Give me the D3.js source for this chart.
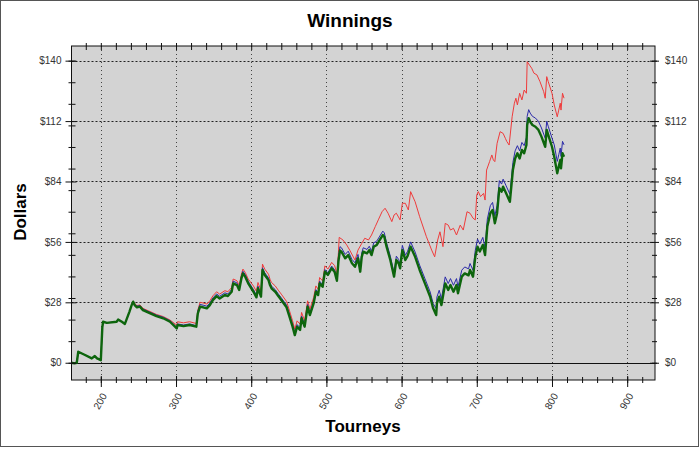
<!DOCTYPE html>
<html><head><meta charset="utf-8">
<script src="https://cdn.jsdelivr.net/npm/d3@7"></script>
<style>html,body{margin:0;padding:0;background:#fff}svg{display:block;font-family:"Liberation Sans",Arial,sans-serif}</style>
</head><body><svg id="c" width="700" height="449"></svg>
<script>
const tourneys = [161,165,168,170,179,188,192,195,200,202,203,208,221,223,228,232,238,241,243,245,248,252,256,274,283,292,301,302,310,318,327,329,332,336,341,345,349,354,358,365,369,374,376,381,384,387,389,392,396,403,407,409,413,415,418,423,425,427,432,436,440,447,451,455,458,461,465,467,471,475,478,483,486,489,491,495,498,502,507,511,514,516,518,520,525,529,534,538,542,545,547,549,554,557,560,563,567,571,575,577,580,585,590,593,596,598,601,605,608,612,618,624,631,638,642,646,647,650,653,658,662,665,669,673,675,680,684,689,691,695,698,701,704,708,711,714,718,721,724,727,730,733,735,739,744,748,751,754,757,760,763,766,767,769,771,774,778,782,786,791,793,795,800,803,807,809,811,812,814,816];
const greenWinnings = [0,-0.3,0,5.1,3.6,2,3.1,2,1.2,16.4,19,18.5,19,20,19,18,23.6,26.7,28.3,26.7,25.7,26,24.4,21.6,20.6,19,15.9,17.5,17,17.5,16.7,22.9,26,25.7,25.2,26.7,29,30.9,29.8,31.4,30.9,32.9,36.8,36,33.7,39.1,41.4,39.9,36.8,32.9,30.3,34.5,30.6,43,40.7,38.3,36,34.5,32.9,30.9,29.1,25.7,21.3,16.7,12.8,16.7,15.2,20.6,16.7,26,22.1,27.5,32.9,31.4,36.8,35.2,42.2,40.7,43.8,42,38,47,52,51.5,48.4,49.9,46.1,44.5,48.4,42.2,49.1,51.5,50.7,52.2,49.9,53.8,54.6,56.9,59.2,58.4,53.8,47.6,39.9,47.6,46.1,43.8,52.2,47.6,49.5,53.8,49.1,43,36.8,30.6,25.2,22.1,27.5,30.6,26.7,36.8,33.7,36,32.9,36,32.2,39.9,41.4,40.5,43,39.9,49.1,53.8,51.5,54.6,49.9,63.1,69.3,70.8,64.6,69.3,80.9,79.3,81.6,78.5,74.6,89.3,94.7,97.1,94.7,98.6,97.1,100.9,110.2,113.3,111.7,110.2,109.4,107.9,104.8,100.1,107.9,105.6,100.1,95.5,87.8,90.9,94,90.1,97.1,95.5];
const blueWinnings = [0,-0.3,0,5.1,3.6,2,3.1,2,1.2,16.4,19,18.5,19,20,19,18,23.6,26.7,28.3,26.9,26.2,26.5,24.9,22.1,21.1,19.5,16.4,18,17.5,18,17.2,23.9,27,26.7,26.2,27.7,30,31.9,30.8,32.4,31.9,33.9,37.8,37,34.7,40.1,42.4,40.9,37.8,33.9,31.3,35.5,31.6,44,41.7,39.3,37,35.5,33.9,31.9,30.1,26.7,22.3,17.7,13.8,17.7,16.2,21.6,17.7,27,23.1,28.5,33.9,32.4,37.8,36.2,43.2,41.7,44.8,43,39,48.8,53.8,53.3,50.2,51.7,47.9,46.3,50.2,44,50.9,53.3,52.5,54,51.7,55.6,56.4,58.7,61,60.2,55.6,49.4,41.7,49.4,47.9,45.6,54.4,49.8,51.7,56,51.3,45.2,39,32.8,27.4,25.1,30.5,33.6,29.7,39.8,36.7,39,35.9,39,35.2,42.9,44.4,43.5,46,42.9,52.1,57.3,55,58.1,53.4,66.6,72.8,74.3,68.1,72.8,84.4,82.8,85.1,82,78.1,92.8,98.2,100.6,98.2,102.1,100.6,104.4,114.2,117.3,115.7,114.2,113.4,111.9,108.8,104.1,111.9,109.6,104.1,101,93.3,96.4,99.5,95.6,102.6,101];
const redTourneys = [161,165,168,170,179,188,192,195,200,202,203,208,221,223,228,232,238,241,243,245,248,252,256,274,283,292,301,302,310,318,327,329,332,336,341,345,349,354,358,365,369,374,376,381,384,387,389,392,396,403,407,409,413,415,418,423,425,427,432,436,440,447,451,455,458,461,465,467,471,475,478,483,486,489,491,495,498,502,507,511,514,516,517,522,527,531,538,542,547,551,556,560,565,569,574,578,582,587,590,593,598,601,605,609,612,618,624,633,640,644,648,651,655,658,662,665,669,673,678,682,687,691,695,698,700,702,705,709,711,713,717,720,722,724,727,731,735,738,740,743,747,750,752,754,757,760,763,766,767,770,773,776,780,784,789,791,793,795,800,803,807,809,811,812,814,816];
const redWinnings = [0,-0.3,0,5.1,3.6,2,3.1,2,1.2,16.4,19,18.5,19,20,19,18,23.6,26.7,28.3,27.5,26.5,26.8,25.2,22.4,21.4,19.8,17.4,19,18.5,19,18.2,24.4,28,27.7,27.2,28.7,31,32.9,31.8,33.4,32.9,34.9,38.8,38,35.7,41.1,43.4,41.9,38.8,35.6,33,37.2,33.3,45.7,43.4,41,38.7,37.2,35.6,33.6,31.8,28.4,24,19.4,15.5,19.4,17.9,23.3,19.4,28.7,24.8,30.2,35.6,34.1,39.5,37.9,44.9,43.4,46.5,45,41,51,58.1,56.9,54.6,52.2,47.6,52.2,55.3,57.7,56.9,59.2,63.1,66.2,70,71.6,69.3,65.4,68.5,69.3,66.2,73.9,73.9,70.8,79.3,74.6,67.7,58.4,52.2,49.1,56.9,60.7,53.8,64.6,63.8,61.5,62.3,59.2,63.8,61.5,70,69.3,67,66.2,77.8,79.3,77,78.5,75.4,89.3,93.2,96.3,94,93.2,101.7,107.1,106.3,104,102.5,100.9,114,120.3,122.6,119.5,124.9,121.8,126.4,124.9,139.5,138,136.5,134.2,133.4,130.3,125.6,122.6,132.6,130.3,124.9,119.5,114,117.1,120.3,117.1,124.9,122.6];
const yLabelTicks = [0,28,56,84,112,140];
const yMinorTicks = [0,10,20,30,40,50,60,70,80,90,100,110,120,130,140];
const xLabelTicks = [200,300,400,500,600,700,800,900];
const xMinorTicks = [180,200,220,240,260,280,300,320,340,360,380,400,420,440,460,480,500,520,540,560,580,600,620,640,660,680,700,720,740,760,780,800,820,840,860,880,900,920];
const title = "Winnings", xTitle = "Tourneys", yTitle = "Dollars";

const svg = d3.select("#c");
const L = 71.5, R = 655, T = 46, B = 380;
const x = d3.scaleLinear().domain([161, 937]).range([L, R]);
const y = d3.scaleLinear().domain([-8, 146.8]).range([B, T]);

svg.append("rect").attr("x",0.5).attr("y",0.5).attr("width",698).attr("height",446)
  .attr("fill","#fff").attr("stroke","#555");
svg.append("rect").attr("x",L).attr("y",T).attr("width",R-L).attr("height",B-T)
  .attr("fill","#d3d3d3");

// grid
svg.append("g").selectAll("line").data(xLabelTicks).join("line")
  .attr("x1",d=>Math.round(x(d))+0.5).attr("x2",d=>Math.round(x(d))+0.5)
  .attr("y1",T).attr("y2",B).attr("stroke","#444").attr("stroke-dasharray","1,3");
svg.append("g").selectAll("line").data(yLabelTicks.filter(d=>d>0)).join("line")
  .attr("x1",L).attr("x2",R).attr("y1",d=>Math.round(y(d))+0.5).attr("y2",d=>Math.round(y(d))+0.5)
  .attr("stroke","#222").attr("stroke-dasharray","2,2");
svg.append("line").attr("x1",L).attr("x2",R).attr("y1",Math.round(y(0))+0.5).attr("y2",Math.round(y(0))+0.5)
  .attr("stroke","#111").attr("stroke-width",1);

// series
function draw(ts, vs, color, w){
  const pts = ts.map((t,i)=>[t, vs[i]]);
  svg.append("path").datum(pts)
    .attr("d", d3.line().x(d=>x(d[0])).y(d=>y(d[1])))
    .attr("fill","none").attr("stroke",color).attr("stroke-width",w).attr("stroke-linejoin","round");
}
draw(redTourneys, redWinnings, "#ef3b3b", 1);
draw(tourneys, blueWinnings, "#2a2aa8", 1);
draw(tourneys, greenWinnings, "#0d650d", 2.4);

svg.append("rect").attr("x",L).attr("y",T).attr("width",R-L).attr("height",B-T)
  .attr("fill","none").attr("stroke","#111");

function styleAxis(g){ g.select(".domain").remove(); g.selectAll("line").attr("stroke","#111"); g.selectAll("text").attr("fill","#333").attr("font-size","10px").attr("font-family","'Liberation Sans',Arial,sans-serif"); }
const fmt = d=>"$"+d;

// left
svg.append("g").attr("transform",`translate(${L},0)`)
  .call(d3.axisLeft(y).tickValues(yMinorTicks).tickSize(3).tickFormat(""))
  .call(styleAxis).call(g=>g.selectAll("line").attr("x1",4));
svg.append("g").attr("transform",`translate(${L},0)`)
  .call(d3.axisLeft(y).tickValues(yLabelTicks).tickSize(6).tickPadding(4).tickFormat(fmt))
  .call(styleAxis).call(g=>g.selectAll("line").attr("x1",5));
// right
svg.append("g").attr("transform",`translate(${R},0)`)
  .call(d3.axisRight(y).tickValues(yMinorTicks).tickSize(2).tickFormat(""))
  .call(styleAxis).call(g=>g.selectAll("line").attr("x1",-3));
svg.append("g").attr("transform",`translate(${R},0)`)
  .call(d3.axisRight(y).tickValues(yLabelTicks).tickSize(4).tickPadding(6).tickFormat(fmt))
  .call(styleAxis).call(g=>g.selectAll("line").attr("x1",-5));
// bottom
svg.append("g").attr("transform",`translate(0,${B})`)
  .call(d3.axisBottom(x).tickValues(xMinorTicks).tickSize(3).tickFormat(""))
  .call(styleAxis).call(g=>g.selectAll("line").attr("y1",-3));
const bx = svg.append("g").attr("transform",`translate(0,${B})`)
  .call(d3.axisBottom(x).tickValues(xLabelTicks).tickSize(7).tickFormat(d3.format("d")))
  .call(styleAxis).call(g=>g.selectAll("line").attr("y1",-4));
bx.selectAll("text").attr("text-anchor","end").attr("dy","0.35em").attr("y",0)
  .attr("transform","translate(3,14) rotate(-60)");
// top
svg.append("g").attr("transform",`translate(0,${T})`)
  .call(d3.axisTop(x).tickValues(xMinorTicks).tickSize(3).tickFormat(""))
  .call(styleAxis).call(g=>g.selectAll("line").attr("y1",4));

// titles
svg.append("text").attr("x",350).attr("y",27).attr("text-anchor","middle")
  .attr("font-size","19px").attr("font-weight","bold").attr("fill","#000").text(title);
svg.append("text").attr("x",363).attr("y",432).attr("text-anchor","middle")
  .attr("font-size","17px").attr("font-weight","bold").attr("fill","#000").text(xTitle);
svg.append("text").attr("transform","translate(26,212) rotate(-90)").attr("text-anchor","middle")
  .attr("font-size","17px").attr("font-weight","bold").attr("fill","#000").text(yTitle);
</script></body></html>
